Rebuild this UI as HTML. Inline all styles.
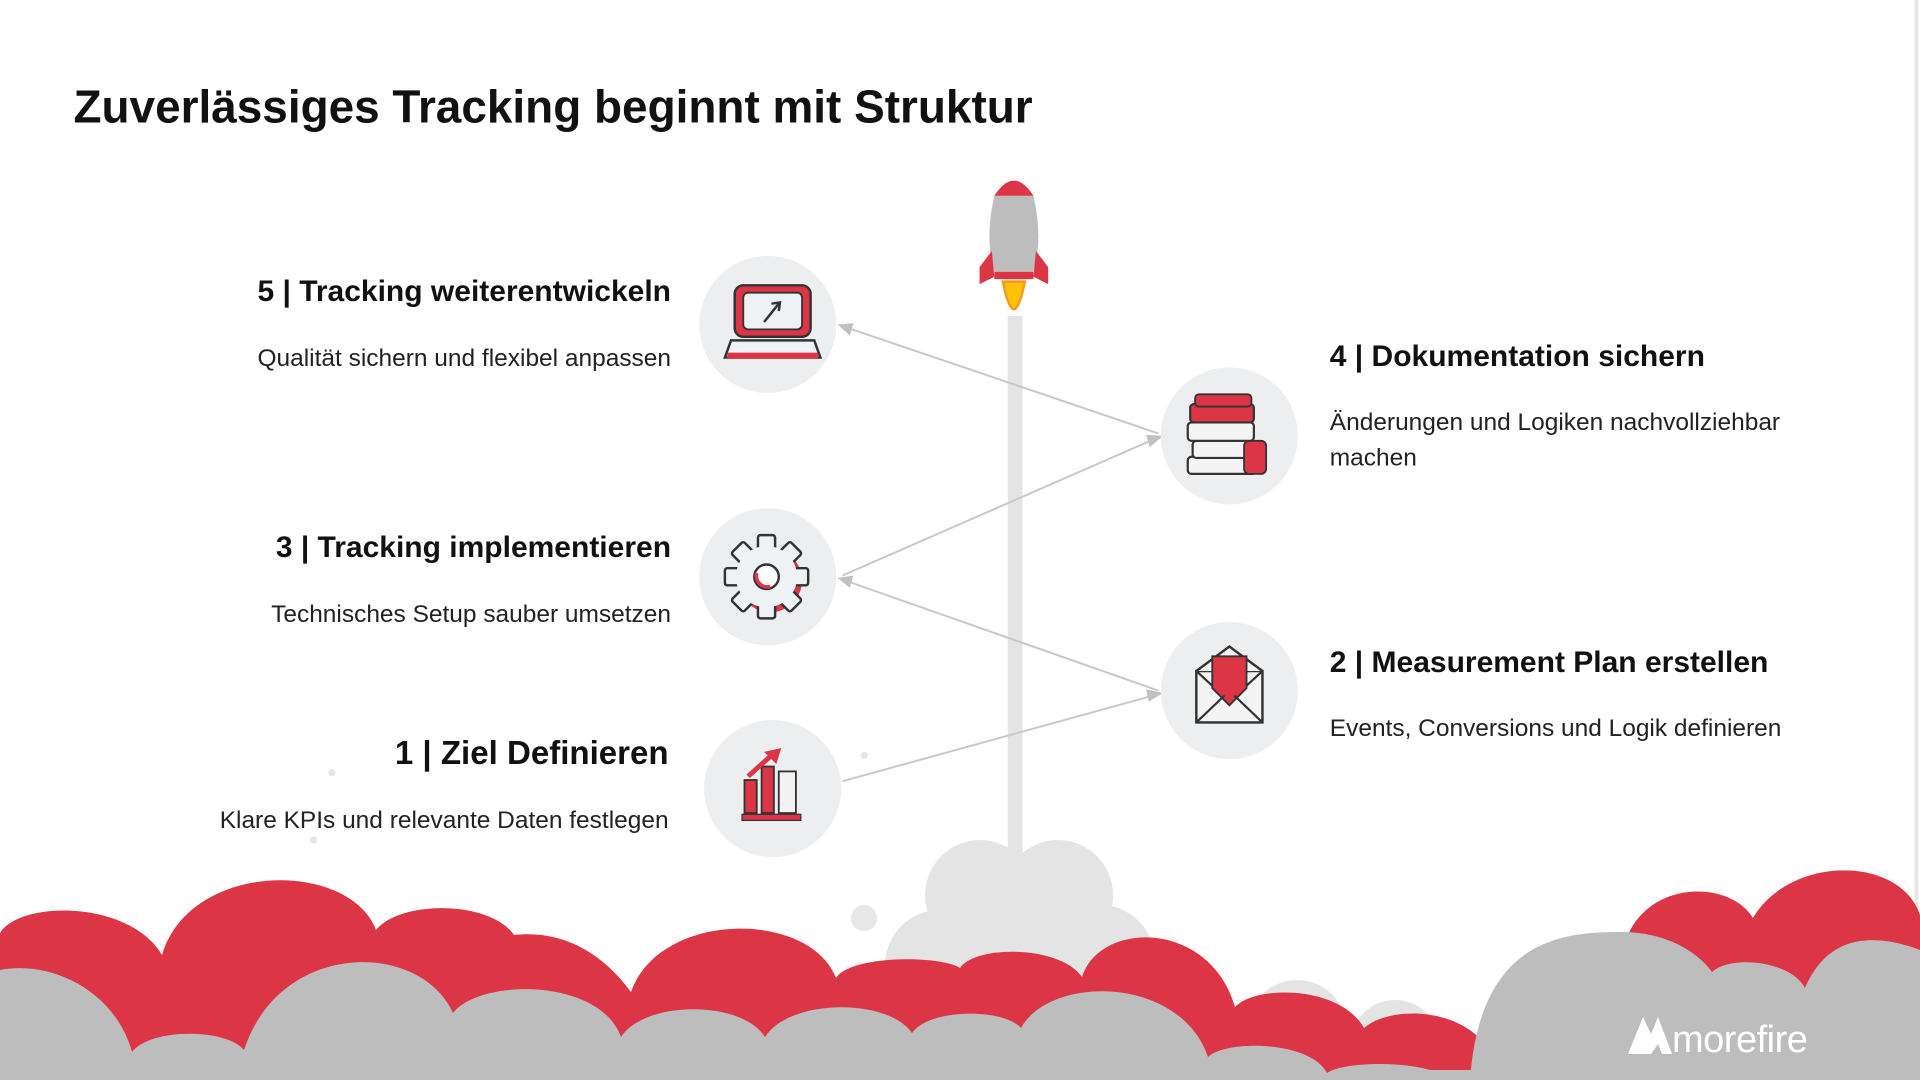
<!DOCTYPE html>
<html><head><meta charset="utf-8"><style>
html,body{margin:0;padding:0;background:#fff;overflow:hidden;}
svg{display:block;}
text{font-family:"Liberation Sans",Arial,sans-serif;}
</style></head><body>
<svg width="1920" height="1080" viewBox="0 0 1568 882" preserveAspectRatio="none" xmlns="http://www.w3.org/2000/svg">
<rect width="1568" height="882" fill="#fff"/>
<line x1="1565" y1="0" x2="1565" y2="882" stroke="#e6e6e6" stroke-width="3"/>
<text x="60" y="100" font-size="37.5" font-weight="bold" fill="#111">Zuverlässiges Tracking beginnt mit Struktur</text>

<rect x="823" y="258" width="12" height="450" fill="#e4e4e4"/>
<path d="M812 160 Q828 135 844 160 Z" fill="#dc3545"/>
<path d="M812 160 L844 160 Q852 195 844 222 L812 222 Q804 195 812 160 Z" fill="#bdbdbd"/>
<path d="M810 205 L800 218 L800 232 L812 226 Z" fill="#dc3545"/>
<path d="M846 205 L856 218 L856 232 L844 226 Z" fill="#dc3545"/>
<rect x="812" y="222" width="32" height="6" fill="#dc3545"/>
<path d="M819 230 Q828 275 837 230 Z" fill="#ffc107" stroke="#f59a1b" stroke-width="2"/>

<g stroke="#c8c8c8" stroke-width="1.6" fill="none">
<line x1="688" y1="638" x2="942" y2="568"/>
<line x1="946" y1="564" x2="690" y2="474"/>
<line x1="688" y1="470" x2="944" y2="358"/>
<line x1="946" y1="354" x2="690" y2="267"/>
</g>
<g fill="#c0c0c0">
<polygon points="950,566 936,563 938,573"/>
<polygon points="684,472 697,470 694,480"/>
<polygon points="950,356 936,355 939,365"/>
<polygon points="684,265 697,264 694,274"/>
</g>

<g fill="#eceeef">
<circle cx="627" cy="265" r="56"/>
<circle cx="627" cy="471" r="56"/>
<circle cx="631" cy="644" r="56"/>
<circle cx="1004" cy="356" r="56"/>
<circle cx="1004" cy="564" r="56"/>
</g>
<circle cx="271" cy="631" r="3" fill="#e5e5e5"/>
<circle cx="256" cy="686" r="3" fill="#e5e5e5"/>
<circle cx="706" cy="617" r="3" fill="#e5e5e5"/>

<rect x="600" y="233" width="62" height="42" rx="7" fill="#dc3545" stroke="#333" stroke-width="2"/>
<rect x="607" y="239" width="48" height="30" rx="4" fill="#eef2f4" stroke="#333" stroke-width="1.5"/>
<line x1="624" y1="263" x2="636" y2="248" stroke="#333" stroke-width="2"/>
<path d="M630 248 L637 247 L636 254" stroke="#333" stroke-width="2" fill="none"/>
<path d="M597 278 L665 278 L670 292 L592 292 Z" fill="#eef2f4" stroke="#333" stroke-width="2"/>
<rect x="594" y="288" width="74" height="5" fill="#dc3545"/>
<g transform="translate(626,471)" stroke="#333" stroke-width="2" fill="#eef2f4">
<g fill="#dc3545" stroke="none" transform="translate(3,3)"><circle r="26"/></g>
<g>
<rect x="-7" y="-34" width="14" height="14" rx="2"/>
<rect x="-7" y="-34" width="14" height="14" rx="2" transform="rotate(45)"/>
<rect x="-7" y="-34" width="14" height="14" rx="2" transform="rotate(90)"/>
<rect x="-7" y="-34" width="14" height="14" rx="2" transform="rotate(135)"/>
<rect x="-7" y="-34" width="14" height="14" rx="2" transform="rotate(180)"/>
<rect x="-7" y="-34" width="14" height="14" rx="2" transform="rotate(225)"/>
<rect x="-7" y="-34" width="14" height="14" rx="2" transform="rotate(270)"/>
<rect x="-7" y="-34" width="14" height="14" rx="2" transform="rotate(315)"/>
</g>
<circle r="25" stroke="none"/>
<circle r="10" fill="#fff"/>
<path d="M-8 -3 A9 9 0 0 0 3 8" stroke="#dc3545" stroke-width="3" fill="none"/>
</g>
<rect x="608" y="637" width="10" height="27" fill="#dc3545" stroke="#333" stroke-width="1.5"/>
<rect x="622" y="626" width="10" height="38" fill="#dc3545" stroke="#333" stroke-width="1.5"/>
<rect x="636" y="630" width="14" height="34" fill="#f2f2f2" stroke="#333" stroke-width="1.5"/>
<rect x="606" y="665" width="48" height="5" fill="#dc3545" stroke="#333" stroke-width="1"/>
<path d="M611 634 Q622 624 630 617" stroke="#dc3545" stroke-width="4" fill="none"/>
<polygon points="624,614 638,611 634,624" fill="#dc3545"/>
<rect x="970" y="373" width="56" height="14" rx="3" fill="#f4f4f4" stroke="#333" stroke-width="1.8"/>
<rect x="974" y="360" width="52" height="14" rx="3" fill="#f4f4f4" stroke="#333" stroke-width="1.8"/>
<rect x="1016" y="360" width="18" height="27" rx="4" fill="#dc3545" stroke="#333" stroke-width="1.5"/>
<rect x="970" y="345" width="54" height="15" rx="3" fill="#f4f4f4" stroke="#333" stroke-width="1.8"/>
<rect x="972" y="330" width="52" height="15" rx="3" fill="#dc3545" stroke="#333" stroke-width="1.8"/>
<rect x="976" y="322" width="46" height="10" rx="3" fill="#dc3545" stroke="#333" stroke-width="1.5"/>
<rect x="977" y="548" width="54" height="42" fill="#f4f4f4" stroke="#333" stroke-width="2"/>
<path d="M977 548 L1004 528 L1031 548" fill="#f4f4f4" stroke="#333" stroke-width="2"/>
<path d="M990 536 L1018 536 L1018 562 L1004 576 L990 562 Z" fill="#dc3545" stroke="#333" stroke-width="1.5"/>
<path d="M977 590 L1000 568 M1031 590 L1008 568 M977 548 L990 560 M1031 548 L1018 560" stroke="#333" stroke-width="1.8" fill="none"/>

<g font-weight="bold" font-size="24.5" fill="#111">
<text x="548" y="246" text-anchor="end">5 | Tracking weiterentwickeln</text>
<text x="548" y="455" text-anchor="end">3 | Tracking implementieren</text>
<text x="546" y="624" text-anchor="end" font-size="27">1 | Ziel Definieren</text>
<text x="1086" y="299">4 | Dokumentation sichern</text>
<text x="1086" y="549">2 | Measurement Plan erstellen</text>
</g>
<g font-size="20" fill="#222">
<text x="548" y="299" text-anchor="end">Qualität sichern und flexibel anpassen</text>
<text x="548" y="508" text-anchor="end">Technisches Setup sauber umsetzen</text>
<text x="546" y="676" text-anchor="end">Klare KPIs und relevante Daten festlegen</text>
<text x="1086" y="351">Änderungen und Logiken nachvollziehbar</text>
<text x="1086" y="380">machen</text>
<text x="1086" y="601">Events, Conversions und Logik definieren</text>
</g>

<g transform="scale(0.81667)">
<g fill="#e4e4e4">
<circle cx="980" cy="895" r="55"/><circle cx="1058" cy="895" r="55"/>
<circle cx="940" cy="965" r="55"/><circle cx="1100" cy="960" r="55"/>
<rect x="930" y="895" width="180" height="185"/>
<circle cx="1180" cy="1010" r="50"/>
<circle cx="1297" cy="1030" r="50"/>
<circle cx="1395" cy="1045" r="45"/>
</g>
<circle cx="864" cy="918" r="13" fill="#e8e8e8"/>
<path fill="#dc3545" d="M0 1080 L0 933 C20 900 130 900 162 955 C190 860 350 860 376 930 C400 900 490 900 514 935 C560 930 600 950 631 992 C660 910 810 910 836 978 C850 955 940 955 960 968 C975 945 1060 945 1082 977 C1100 920 1210 920 1235 1007 C1255 985 1340 985 1364 1028 C1390 1005 1470 1005 1495 1060 L1495 1080 Z"/>
<path fill="#dc3545" d="M1600 1020 L1627 937 C1650 880 1730 880 1753 918 C1790 855 1900 855 1920 915 L1920 1020 Z"/>
<path fill="#bdbdbd" d="M0 1080 L0 970 C50 960 115 990 132 1052 C150 1028 226 1028 244 1050 C280 940 420 940 453 1013 C480 978 600 978 621 1037 C645 1000 742 1000 765 1037 C790 998 888 998 912 1033 C930 1008 1003 1008 1021 1028 C1050 975 1180 975 1208 1057 C1225 1040 1310 1040 1327 1073 C1345 1060 1430 1060 1450 1080 Z"/>
<path fill="#bdbdbd" d="M1470 1080 C1480 940 1560 932 1621 932 C1670 932 1700 955 1712 972 C1730 955 1790 960 1805 988 C1830 930 1880 935 1920 950 L1920 1080 Z"/>
<rect x="1400" y="1070" width="120" height="10" fill="#bdbdbd"/>
<path d="M1628 1054 L1643 1017 L1651 1034 L1658 1017 L1672 1054 L1662 1054 L1658 1044 L1651 1054 Z" fill="#fff"/>
<text x="1672" y="1052" font-size="38" fill="#fff" letter-spacing="-0.5">morefire</text>
</g>
</svg>
</body></html>
